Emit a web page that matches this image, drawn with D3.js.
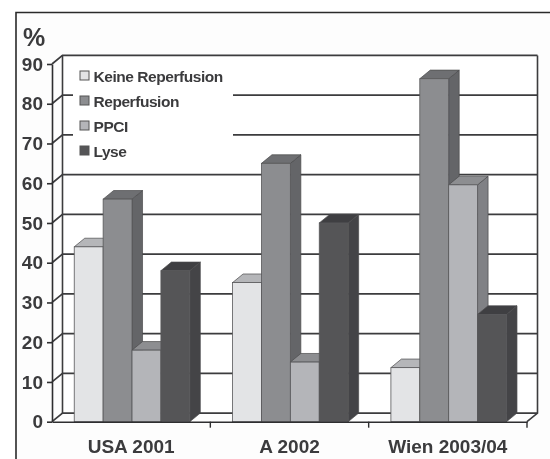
<!DOCTYPE html>
<html>
<head>
<meta charset="utf-8">
<script src="https://cdn.jsdelivr.net/npm/d3@7"></script>
<style>
  html, body { margin: 0; padding: 0; background: #fff; }
  svg { display: block; filter: blur(0.35px); }
  text { font-family: "Liberation Sans", Arial, sans-serif; font-weight: bold; fill: #3b3b3d; }
</style>
</head>
<body>
<svg width="550" height="459"></svg>
<script>
const categories = ['USA 2001', 'A 2002', 'Wien 2003/04'];
const seriesNames = ['Keine Reperfusion', 'Reperfusion', 'PPCI', 'Lyse'];
const keineReperfusion = [44, 35, 13.6];
const reperfusion = [56, 65, 86.3];
const ppci = [18, 15, 59.6];
const lyse = [38, 50, 27];
const yTicks = [0, 10, 20, 30, 40, 50, 60, 70, 80, 90];

const seriesValues = [keineReperfusion, reperfusion, ppci, lyse];
const frontColors = ['#e3e4e6', '#8c8d90', '#b4b5b9', '#555557'];
const topColors = ['#b5b6b9', '#6e6f72', '#8d8e91', '#3f3f42'];
const sideColors = ['#a8a9ac', '#646568', '#808185', '#444447'];

const svg = d3.select('svg');
const x0 = 52, x1 = 527, yBottom = 421.7, yTop = 64;
const depthX = 10.5, depthY = 8.6;

// ======================= SCALES ===============================
const xScale = d3.scaleBand().domain(categories).range([x0, x1]);
const barScale = d3.scaleBand()
    .domain(seriesNames)
    .range([0, xScale.bandwidth()])
    .paddingInner(0)
    .paddingOuter(0.74)
    .align(0.52);
const yScale = d3.scaleLinear().domain([0, 90]).range([yBottom, yTop]);

// ======================= FRAME ===============================
svg.append('rect').attr('x', 16).attr('y', 12).attr('width', 534).attr('height', 447).attr('fill', '#fdfdfd');
svg.append('path')
    .attr('d', 'M16,459V12.5H550')
    .attr('fill', 'none').attr('stroke', '#2a2a2a').attr('stroke-width', 1.6);

// ======================= WALLS ===============================
svg.append('rect')
    .attr('x', x0 + depthX).attr('y', yTop - depthY + 1.5)
    .attr('width', x1 - x0).attr('height', yBottom - yTop)
    .attr('fill', '#fff');

const walls = svg.append('g').attr('fill', 'none').attr('stroke', '#3c3c3e');

// gridlines on back wall and the short diagonals on the side wall
walls.selectAll('.grid')
    .data(yTicks)
    .enter()
    .append('path')
    .attr('class', 'grid')
    .attr('stroke-width', 1.7)
    .attr('d', d => {
        const y = yScale(d);
        return `M${x0},${y}L${x0 + depthX},${y - depthY}H${x1 + depthX}`;
    });

walls.append('path')
    .attr('stroke-width', 1.6)
    .attr('d', `M${x0 + depthX},${yTop - depthY}V${yBottom - depthY}M${x1 + depthX},${yTop - depthY}V${yBottom - depthY}L${x1},${yBottom}`);

// ======================= LEGEND BACKGROUND ===============================
svg.append('rect')
    .attr('x', 73).attr('y', 62).attr('width', 160).attr('height', 108)
    .attr('fill', '#fff');

// ======================= BARS ===============================
const groups = svg.append('g')
    .selectAll('g')
    .data(categories)
    .enter()
    .append('g')
    .attr('transform', d => `translate(${xScale(d)},0)`);

seriesNames.forEach((name, s) => {
    const w = barScale.bandwidth();
    const bx = barScale(name);
    const bar = groups.append('g');

    bar.append('path')
        .attr('fill', sideColors[s]).attr('stroke', '#4a4a4c').attr('stroke-width', 0.7)
        .attr('d', (d, i) => {
            const y = yScale(seriesValues[s][i]);
            return `M${bx + w},${y}l${depthX},${-depthY}V${yBottom - depthY}L${bx + w},${yBottom}Z`;
        });

    bar.append('path')
        .attr('fill', topColors[s]).attr('stroke', '#4a4a4c').attr('stroke-width', 0.7)
        .attr('d', (d, i) => {
            const y = yScale(seriesValues[s][i]);
            return `M${bx},${y}l${depthX},${-depthY}h${w}l${-depthX},${depthY}Z`;
        });

    bar.append('rect')
        .attr('x', bx)
        .attr('y', (d, i) => yScale(seriesValues[s][i]))
        .attr('width', w)
        .attr('height', (d, i) => yBottom - yScale(seriesValues[s][i]))
        .attr('fill', frontColors[s])
        .attr('stroke', '#58585a').attr('stroke-width', 0.8);
});

// ======================= AXES ===============================
const yAxis = svg.append('g')
    .attr('transform', `translate(${x0},0)`)
    .call(d3.axisLeft(yScale).tickValues(yTicks).tickSize(5).tickSizeOuter(0).tickPadding(4));
yAxis.selectAll('path, line').attr('stroke', '#2e2e30').attr('stroke-width', 1.6);
yAxis.selectAll('text').style('font-size', '19px');

const xAxis = svg.append('g')
    .attr('transform', `translate(0,${yBottom})`)
    .call(d3.axisBottom(xScale).tickSize(0).tickPadding(18));
xAxis.select('.domain').attr('stroke', '#2e2e30').attr('stroke-width', 1.6);
xAxis.selectAll('line').remove();
xAxis.selectAll('text').style('font-size', '19px');

// group separators sit between the bands, not at the band centres
xAxis.selectAll('.sep')
    .data(categories)
    .enter()
    .append('line')
    .attr('class', 'sep')
    .attr('x1', d => xScale(d) + xScale.bandwidth())
    .attr('x2', d => xScale(d) + xScale.bandwidth())
    .attr('y1', 0).attr('y2', 6)
    .attr('stroke', '#2e2e30').attr('stroke-width', 1.4);

// ======================= LEGEND ===============================
const legend = svg.append('g')
    .selectAll('g')
    .data(seriesNames)
    .enter()
    .append('g')
    .attr('transform', (d, i) => `translate(80,${75.5 + i * 25})`);

legend.append('rect')
    .attr('y', -4.5).attr('width', 9).attr('height', 9)
    .attr('fill', (d, i) => frontColors[i])
    .attr('stroke', '#555').attr('stroke-width', 1);

legend.append('text')
    .attr('x', 13.5)
    .attr('y', 6)
    .style('font-size', '15.5px')
    .style('letter-spacing', '-0.45px')
    .text(d => d);

// ======================= TITLE ===============================
svg.append('text')
    .attr('x', 23).attr('y', 46)
    .style('font-size', '25px')
    .text('%');
</script>
</body>
</html>
